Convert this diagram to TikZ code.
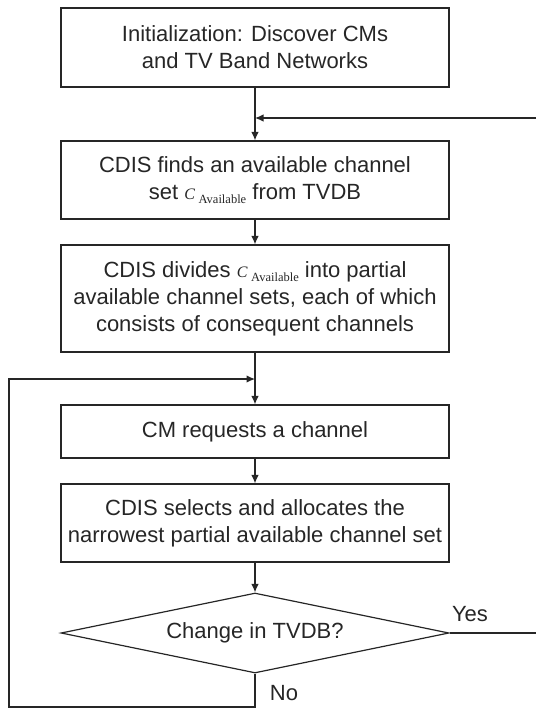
\documentclass[tikz,border=0pt]{standalone}
\usepackage{fontspec}
\setmainfont{Liberation Sans}
\newfontfamily\tnr{Liberation Serif}
\usetikzlibrary{arrows.meta,shapes.geometric}
\newcommand{\Cav}{{\tnr\fontsize{16}{16}\selectfont\itshape C}\,\raisebox{-4pt}{\tnr\fontsize{12.5}{12.5}\selectfont Available}}
\tikzset{
  stepbox/.style={draw=black!85, line width=1.2pt, minimum width=388pt, inner sep=2pt, align=center,
    font=\fontsize{22}{27}\selectfont, text=black!85},
  arr/.style={draw=black!85, line width=1.2pt, -{Latex[length=8.5pt,width=7.5pt]}},
  ln/.style={draw=black!85, line width=1.2pt},
  lbl/.style={font=\fontsize{22}{27}\selectfont, text=black!85, inner sep=0pt}
}
\begin{document}
\begin{tikzpicture}[x=1pt,y=-1pt]
\useasboundingbox (0,0) rectangle (536,709);
\node[stepbox, minimum height=79pt] (b1) at (255,47.5) {Initialization: Discover CMs\\and TV Band Networks};
\node[stepbox, minimum height=78pt] (b2) at (255,180) {CDIS finds an available channel\\set \Cav{} from TVDB};
\node[stepbox, minimum height=107pt] (b3) at (255,298.5) {CDIS divides \Cav{} into partial\\available channel sets, each of which\\consists of consequent channels};
\node[stepbox, minimum height=53pt] (b4) at (255,431.5) {CM requests a channel};
\node[stepbox, minimum height=78pt] (b5) at (255,523) {CDIS selects and allocates the\\narrowest partial available channel set};
\node[diamond, draw=black!85, line width=1.2pt, minimum width=388pt, minimum height=80pt, inner sep=0pt, shape aspect=4.85,
  font=\fontsize{22}{27}\selectfont, text=black!85] (d) at (255,633) {Change in TVDB?};
\coordinate (j1) at (255,118);
\coordinate (rt) at (536,118);
\coordinate (j2) at (255,379);
\coordinate (lb) at (9,379);
\coordinate (bb) at (9,707);
\coordinate (bm) at (255,707);
\coordinate (rr) at (536,633);
\node[lbl] (yes) at (470,614) {Yes};
\node[lbl] (no) at (284,693) {No};
\draw[arr] (b1) -- (b2);
\draw[arr] (rt) -- (j1);
\draw[arr] (b2) -- (b3);
\draw[arr] (b3) -- (b4);
\draw[arr] (b4) -- (b5);
\draw[arr] (b5) -- (d);
\draw[ln] (d.east) -- (rr);
\draw[arr] (d.south) -- (bm) -- (bb) -- (lb) -- (j2);
\end{tikzpicture}
\end{document}
